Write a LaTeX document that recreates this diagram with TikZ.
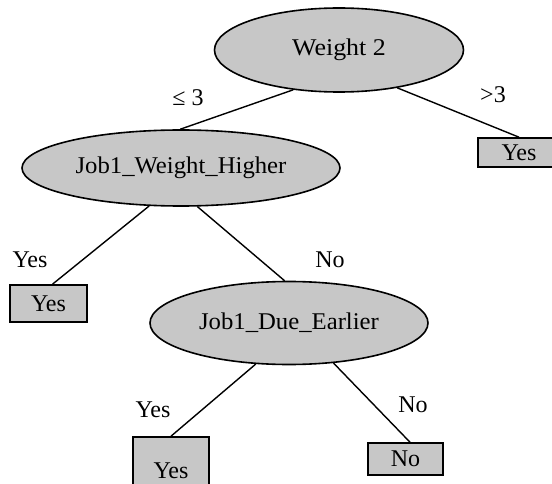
\documentclass[tikz,border=0pt]{standalone}
\usepackage{fontspec}
\setmainfont{Liberation Serif}
\usetikzlibrary{shapes.geometric}
\begin{document}
\begin{tikzpicture}[x=1pt,y=-1pt,
  every node/.append style={font=\fontsize{24}{28}\selectfont},
  decision/.style={ellipse, draw, line width=1.6pt, fill=black!22, inner sep=0pt},
  leaf/.style={rectangle, draw, line width=1.6pt, fill=black!22, inner sep=0pt},
  edge/.style={line width=1.4pt},
  lbl/.style={inner sep=0pt}]
\useasboundingbox (0,0) rectangle (552,484);
\begin{scope}
\clip (0,0) rectangle (552,484);
\node[decision, minimum width=249pt, minimum height=84pt] (w2) at (339,50) {\scalebox{1.08}[1]{Weight 2}};
\node[decision, minimum width=318pt, minimum height=76pt] (jwh) at (181,168) {\scalebox{1.03}[1]{Job1\_Weight\_Higher}};
\node[decision, minimum width=278pt, minimum height=83pt] (jde) at (289,323) {\scalebox{1.03}[1]{Job1\_Due\_Earlier}};
\node[leaf, minimum width=82pt, minimum height=29pt] (yesR) at (519,152.5) {Yes};
\node[leaf, minimum width=77pt, minimum height=37pt] (yesL) at (48.5,303.5) {Yes};
\node[leaf, minimum width=76pt, minimum height=68pt] (yesB) at (171,471) {Yes};
\node[leaf, minimum width=75pt, minimum height=32pt] (no) at (405.5,459) {No};

\draw[edge] (w2.221) -- (jwh.91);
\draw[edge] (w2.-33) -- (yesR.north);
\draw[edge] (jwh.230) -- ([xshift=4pt]yesL.north);
\draw[edge] (jwh.-67) -- (jde.96);
\draw[edge] (jde.231) -- (yesB.north);
\draw[edge] (jde.-42) -- ([xshift=4.5pt]no.north);

\node[lbl] (l1) at (188,98) {≤ 3};
\node[lbl] (l2) at (493,95) {>3};
\node[lbl] (l3) at (30,260) {Yes};
\node[lbl] (l4) at (330,260) {No};
\node[lbl] (l5) at (153,410) {Yes};
\node[lbl] (l6) at (413,405) {No};
\end{scope}
\end{tikzpicture}
\end{document}
